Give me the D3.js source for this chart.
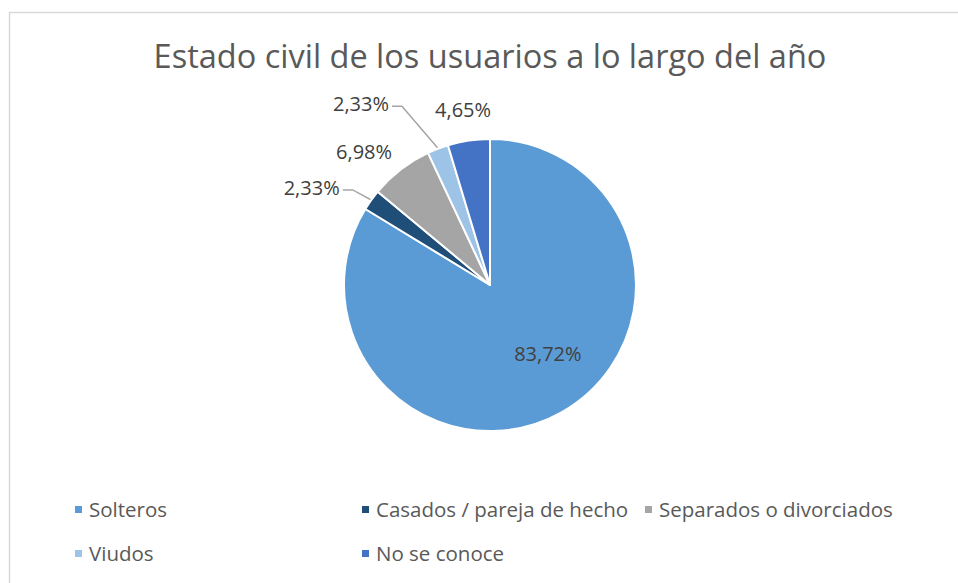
<!DOCTYPE html>
<html>
<head>
<meta charset="utf-8">
<script src="https://cdn.jsdelivr.net/npm/d3@7"></script>
<style>
  body { margin: 0; background: #fff; }
  svg { display: block; }
</style>
</head>
<body>
<div id="chart"></div>
<script>
// data
const categories = ["Solteros", "Casados / pareja de hecho", "Separados o divorciados", "Viudos", "No se conoce"];
const values = [83.72, 2.33, 6.98, 2.33, 4.65];
const colors = ["#5B9BD5", "#1F4E79", "#A5A5A5", "#9DC3E6", "#4472C4"];
const title = "Estado civil de los usuarios a lo largo del año";

// label placement (angle shift in degrees from slice middle, distance from centre)
const labelShift = [-10.7, -7, -5.8, -14.6, -0.4];
const labelDist = [90, 203, 183, 222, 177];
const hasLeader = [false, true, false, true, false];

const width = 958, height = 583;
const cx = 490, cy = 285, radius = 146;

const esLocale = d3.formatLocale({ decimal: ",", thousands: ".", grouping: [3], currency: ["", " €"] });
const fmt = esLocale.format(".2f");

const svg = d3.select("#chart").append("svg")
  .attr("width", width)
  .attr("height", height);

// chart border (Excel chart area)
svg.append("rect")
  .attr("x", 9.5).attr("y", 12.5)
  .attr("width", 1000).attr("height", 1000)
  .attr("fill", "none")
  .attr("stroke", "#d9d9d9")
  .attr("stroke-width", 1.5);

// title, fitted to the reference width
const t = svg.append("text")
  .attr("x", cx)
  .attr("y", 68)
  .attr("text-anchor", "middle")
  .style("font-family", "'Open Sans', sans-serif")
  .style("font-size", "28px")
  .style("fill", "#595959")
  .text(title);
const tw = t.node().getComputedTextLength();
t.style("font-size", (28 * 673 / tw).toFixed(2) + "px");

const data = categories.map((c, i) => ({ name: c, value: values[i], color: colors[i], i: i }));

const pie = d3.pie().sort(null).value(d => d.value).startAngle(0).endAngle(2 * Math.PI);
const arc = d3.arc().innerRadius(0).outerRadius(radius);
const arcs = pie(data);

const g = svg.append("g").attr("transform", "translate(" + cx + "," + cy + ")");

g.selectAll("path.slice")
  .data(arcs)
  .enter()
  .append("path")
  .attr("class", "slice")
  .attr("d", arc)
  .attr("fill", d => d.data.color)
  .attr("stroke", "#fff")
  .attr("stroke-width", 2)
  .attr("stroke-linejoin", "round");

function polar(angle, r) {
  return [Math.sin(angle) * r, -Math.cos(angle) * r];
}

const labels = g.selectAll("g.lbl")
  .data(arcs)
  .enter()
  .append("g")
  .attr("class", "lbl");

labels.each(function (d) {
  const i = d.data.i;
  const mid = (d.startAngle + d.endAngle) / 2;
  const p = polar(mid + labelShift[i] * Math.PI / 180, labelDist[i]);
  const txt = d3.select(this).append("text")
    .attr("x", p[0])
    .attr("y", p[1])
    .attr("dy", "0.35em")
    .attr("text-anchor", "middle")
    .style("font-family", "'Open Sans', sans-serif")
    .style("font-size", "20px")
    .style("fill", "#404040")
    .text(fmt(d.data.value) + "%");

  if (hasLeader[i]) {
    const w = txt.node().getComputedTextLength();
    const edge = polar(mid, radius + 1);
    const start = [p[0] + w / 2 + 3, p[1] + 2];
    const elbow = [start[0] + 10, start[1]];
    d3.select(this).insert("path", "text")
      .attr("d", d3.line()([start, elbow, edge]))
      .attr("fill", "none")
      .attr("stroke", "#a6a6a6")
      .attr("stroke-width", 1.5);
  }
});

// legend
const legendX = [75, 362, 645];
const legendY = [510, 554];
const legend = svg.selectAll("g.leg")
  .data(data)
  .enter()
  .append("g")
  .attr("class", "leg")
  .attr("transform", (d, i) => "translate(" + legendX[i % 3] + "," + legendY[Math.floor(i / 3)] + ")");

legend.append("rect")
  .attr("x", 0).attr("y", -4)
  .attr("width", 7).attr("height", 7)
  .attr("fill", d => d.color);

legend.append("text")
  .attr("x", 14)
  .attr("y", 0)
  .attr("dy", "0.35em")
  .style("font-family", "'Open Sans', sans-serif")
  .style("font-size", "20.5px")
  .style("fill", "#595959")
  .text(d => d.name);
</script>
</body>
</html>
